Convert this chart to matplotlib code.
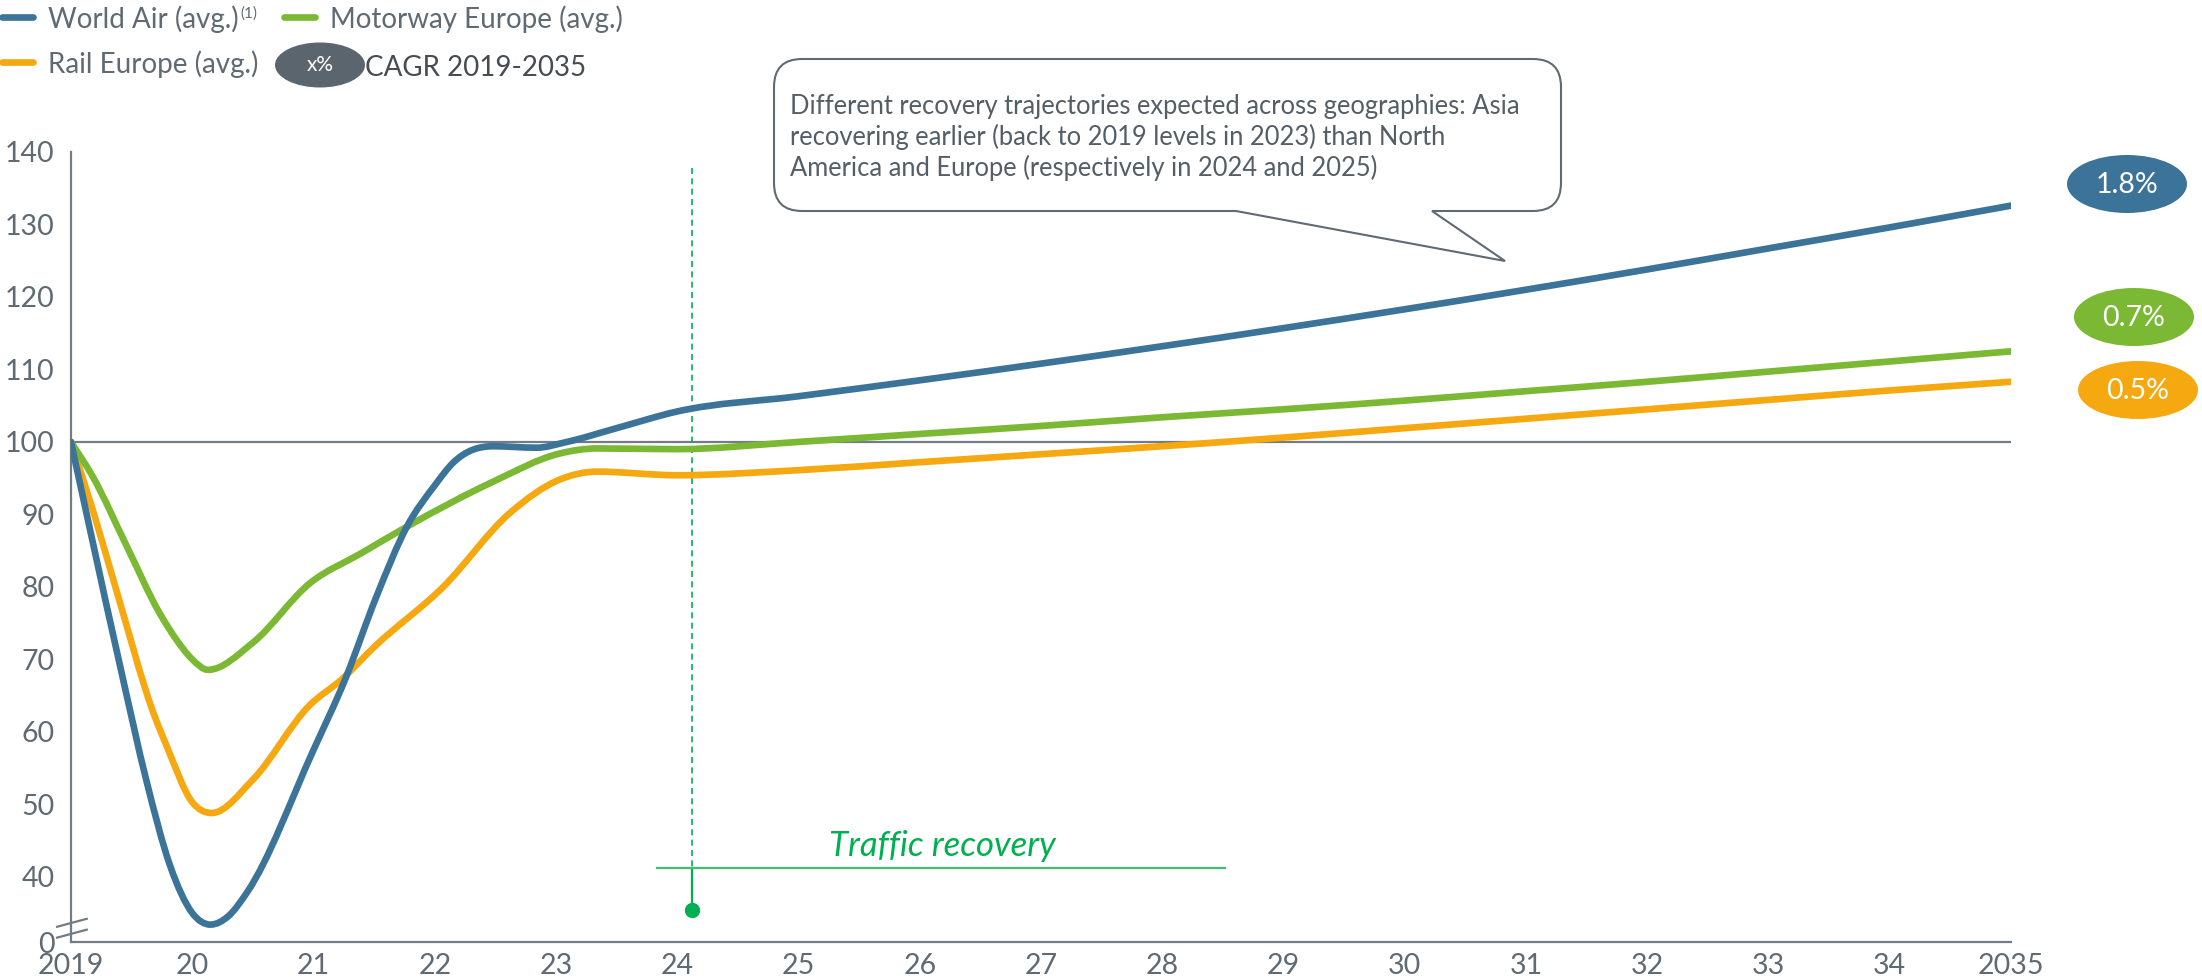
import numpy as np
import matplotlib
matplotlib.use("Agg")
import matplotlib.pyplot as plt
import matplotlib.transforms as mtransforms
from matplotlib.path import Path
from matplotlib.patches import PathPatch, Ellipse
from matplotlib.lines import Line2D

plt.rcParams["font.family"] = ["Lato", "DejaVu Sans"]

# Traffic index, 2019 = 100
air_years = [2019.0, 2019.14, 2019.43, 2019.62, 2019.82, 2020.0, 2020.15, 2020.3,
             2020.45, 2021.0, 2021.26, 2021.52, 2021.77, 2022.0, 2022.15,
             2022.48, 2022.84, 2023.09, 2023.5, 2024, 2025, 2026, 2027, 2028, 2029,
             2030, 2031, 2032, 2033, 2034, 2035]
air_vals = [100, 89.2, 67.2, 53.4, 41.4, 35.0, 33.4, 34.6,
            37.8, 57.5, 67.2, 78.7, 88.3, 94.0, 97.1,
            99.4, 99.2, 100.0, 101.9, 104.2, 106.3, 108.5, 110.8, 113.2, 115.7,
            118.3, 121.0, 123.8, 126.7, 129.6, 132.6]

motorway_years = [2019.0, 2019.18, 2019.46, 2019.73, 2019.87, 2020.0, 2020.13, 2020.5,
                  2020.97, 2021.4, 2021.77, 2022.48, 2023.03, 2023.34, 2024, 2025,
                  2026, 2027, 2028, 2029, 2030, 2031, 2032, 2033, 2034, 2035]
motorway_vals = [100, 95.2, 85.6, 76.4, 72.7, 70.0, 68.55, 72.3,
                 80.5, 84.7, 88.3, 94.5, 98.4, 99.1, 99.0, 100.0,
                 101.1, 102.2, 103.4, 104.5, 105.7, 107.0, 108.3, 109.7, 111.1, 112.5]

rail_years = [2019.0, 2019.18, 2019.38, 2019.68, 2019.79, 2020.0, 2020.16,
              2020.5, 2020.97, 2021.23, 2021.5, 2022.07, 2022.62, 2023.03, 2023.34,
              2024, 2025, 2026, 2027, 2028, 2029, 2030, 2031, 2032, 2033, 2034, 2035]
rail_vals = [100, 90.6, 79.2, 62.6, 58.0, 50.3, 48.8,
             53.4, 63.7, 67.2, 71.7, 80.0, 90.2, 94.8, 95.9,
             95.4, 96.1, 97.2, 98.3, 99.4, 100.6, 101.9, 103.2, 104.5, 105.8, 107.1, 108.3]

series_names = ["World Air (avg.)", "Motorway Europe (avg.)", "Rail Europe (avg.)"]
cagr_labels = ["1.8%", "0.7%", "0.5%"]

x_ticks = list(range(2019, 2036))
x_labels = ["2019"] + [str(y)[2:] for y in range(2020, 2035)] + ["2035"]
y_ticks = [40, 50, 60, 70, 80, 90, 100, 110, 120, 130, 140]
recovery_year = 2024.12

BLUE = "#3B7498"
GREEN = "#7BB833"
ORANGE = "#F5A80F"
GRAY = "#5F6A73"
LINE_GRAY = "#737C84"
REC_GREEN = "#00B050"


def smooth_path(x, y):
    """Cubic Bezier path through the points, flat at local extrema."""
    x = np.asarray(x, float)
    y = np.asarray(y, float)
    h = np.diff(x)
    d = np.diff(y) / h
    m = np.zeros_like(y)
    m[0], m[-1] = d[0], d[-1]
    for k in range(1, len(y) - 1):
        if d[k - 1] * d[k] > 0:
            mk = (h[k] * d[k - 1] + h[k - 1] * d[k]) / (h[k - 1] + h[k])
            lim = 3 * min(abs(d[k - 1]), abs(d[k]))
            m[k] = np.sign(mk) * min(abs(mk), lim)
    verts = [(x[0], y[0])]
    codes = [Path.MOVETO]
    for k in range(len(h)):
        verts += [(x[k] + h[k] / 3, y[k] + m[k] * h[k] / 3),
                  (x[k + 1] - h[k] / 3, y[k + 1] - m[k + 1] * h[k] / 3),
                  (x[k + 1], y[k + 1])]
        codes += [Path.CURVE4] * 3
    return Path(verts, codes)


W, H = 2202, 980
fig = plt.figure(figsize=(W / 100, H / 100), dpi=100)
ax = fig.add_axes([71 / W, 1 - 942 / H, (2011 - 71) / W, (942 - 152) / H])
# pixel coordinates measured from the top-left corner of the figure
px = mtransforms.Affine2D().scale(1 / W, -1 / H).translate(0, 1) + fig.transFigure

y_floor = 31.0
ax.set_xlim(2019, 2035)
ax.set_ylim(y_floor, 140)
ax.set_xticks(x_ticks, x_labels)
ax.set_yticks([y_floor] + y_ticks, ["0"] + [str(v) for v in y_ticks])
ax.tick_params(length=0, labelsize=20.5, labelcolor=GRAY)
ax.tick_params(axis="x", pad=8)
ax.tick_params(axis="y", pad=12)
for side in ["top", "right"]:
    ax.spines[side].set_visible(False)
for side in ["left", "bottom"]:
    ax.spines[side].set_color(LINE_GRAY)
    ax.spines[side].set_linewidth(1.6)

ax.axhline(100, color=LINE_GRAY, lw=1.6, zorder=1)

# axis break marks
for y0 in [33.1, 31.6]:
    ax.plot([2018.885, 2019.13], [y0, y0 + 1.1], color=LINE_GRAY, lw=1.6,
            clip_on=False, zorder=3)

for xs, ys, col in [(rail_years, rail_vals, ORANGE),
                    (motorway_years, motorway_vals, GREEN),
                    (air_years, air_vals, BLUE)]:
    ax.add_patch(PathPatch(smooth_path(xs, ys), fill=False, edgecolor=col,
                           lw=4.8, capstyle="round", joinstyle="round", zorder=4))

# traffic recovery marker
ax.plot([recovery_year, recovery_year], [137.8, 41.2], color=REC_GREEN, lw=1.2,
        ls=(0, (3.6, 2.6)), zorder=2)
ax.plot([recovery_year, recovery_year], [41.2, 35.4], color=REC_GREEN, lw=1.6, zorder=2)
ax.plot([recovery_year], [35.4], marker="o", ms=10, color=REC_GREEN, zorder=3)
ax.plot([2023.83, 2028.52], [41.2, 41.2], color="#3DBE70", lw=1.6, zorder=2)
ax.text(2026.19, 42.9, "Traffic recovery", style="italic", color=REC_GREEN,
        fontsize=25, ha="center", va="baseline")

# speech bubble
x0, x1, y0, y1, r = 774, 1561, 59, 211, 28
bx1, bx2, tip = 1236, 1432, (1505, 261)
bubble = Path(
    [(x0 + r, y0), (x1 - r, y0), (x1, y0), (x1, y0 + r), (x1, y1 - r), (x1, y1),
     (x1 - r, y1), (bx2, y1), tip, (bx1, y1), (x0 + r, y1), (x0, y1), (x0, y1 - r),
     (x0, y0 + r), (x0, y0), (x0 + r, y0), (x0 + r, y0)],
    [Path.MOVETO, Path.LINETO, Path.CURVE3, Path.CURVE3, Path.LINETO, Path.CURVE3,
     Path.CURVE3, Path.LINETO, Path.LINETO, Path.LINETO, Path.LINETO, Path.CURVE3,
     Path.CURVE3, Path.LINETO, Path.CURVE3, Path.CURVE3, Path.CLOSEPOLY])
fig.add_artist(PathPatch(bubble, transform=px, facecolor="white", edgecolor=GRAY,
                         lw=1.5, zorder=5))
bubble_lines = ["Different recovery trajectories expected across geographies: Asia",
                "recovering earlier (back to 2019 levels in 2023) than North",
                "America and Europe (respectively in 2024 and 2025)"]
for i, line in enumerate(bubble_lines):
    fig.text(790, 114 + 31 * i, line, transform=px, fontsize=18.4, color="#545E66",
             ha="left", va="baseline", zorder=6)

# CAGR pills
for (cx, cy), col, lab in zip([(2127, 184), (2134, 317), (2138, 390)],
                              [BLUE, GREEN, ORANGE], cagr_labels):
    fig.add_artist(Ellipse((cx, cy), 120, 58, transform=px, facecolor=col,
                           edgecolor="none"))
    fig.text(cx, cy + 1, lab, transform=px, fontsize=20.5, color="white",
             ha="center", va="center")

# legend
for (lx, ly), col, name in zip([(0, 17), (282, 17), (0, 62)],
                               [BLUE, GREEN, ORANGE], series_names):
    fig.add_artist(Line2D([lx + 2, lx + 33], [ly, ly], transform=px, color=col,
                          lw=4.8, solid_capstyle="round"))
    t = fig.text(lx + 48, ly + 2, name, transform=px, fontsize=20, color=GRAY,
                 ha="left", va="center")
    if name.startswith("World"):
        ax.annotate("(1)", xy=(1, 1), xycoords=t, xytext=(1, -1),
                    textcoords="offset points", fontsize=11, color=GRAY,
                    ha="left", va="top", annotation_clip=False)
fig.add_artist(Ellipse((320, 65), 90, 45, transform=px, facecolor="#5B656D",
                       edgecolor="none"))
fig.text(320, 65, "x%", transform=px, fontsize=15, color="white",
         ha="center", va="center")
fig.text(365, 68, "CAGR 2019-2035", transform=px, fontsize=20, color="#454C52",
         ha="left", va="center")

fig.savefig("out.png", dpi=100)
